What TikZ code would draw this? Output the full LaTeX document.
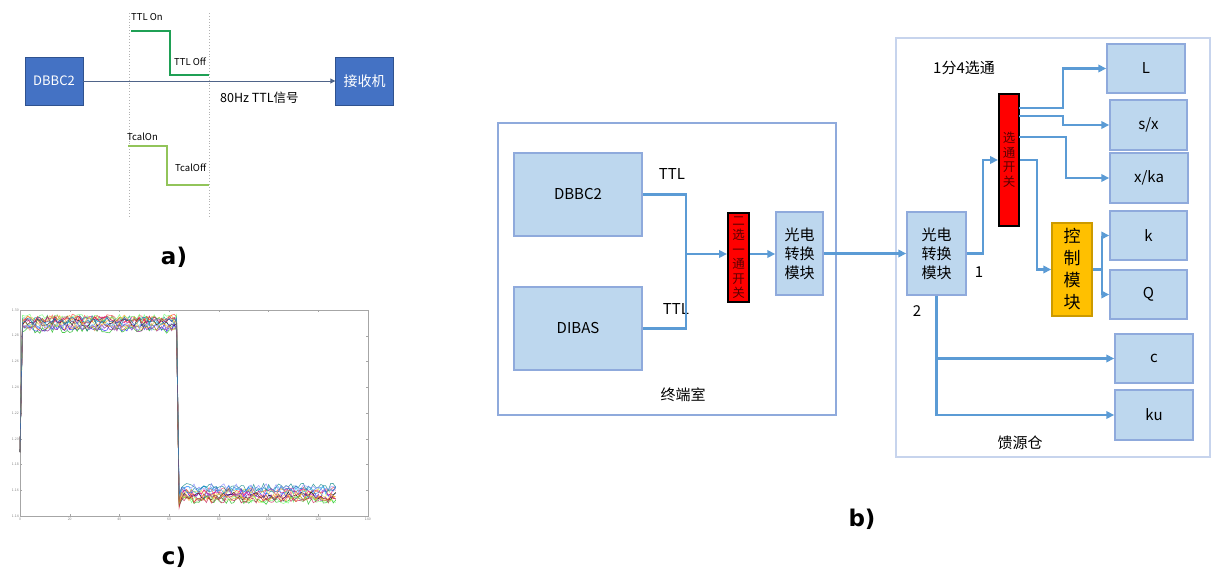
\documentclass[tikz,border=0pt]{standalone}
\usepackage{fontspec}
\setmainfont{Noto Sans CJK SC}
\newfontfamily\labfont{DejaVu Sans}
\usetikzlibrary{arrows.meta,positioning,calc}
\definecolor{sigblue}{HTML}{4472C4}
\definecolor{sigedge}{HTML}{2F528F}
\definecolor{modfill}{HTML}{BDD7EE}
\definecolor{modedge}{HTML}{8FAADC}
\definecolor{linkblue}{HTML}{5B9BD5}
\definecolor{ctrlfill}{HTML}{FFC000}
\definecolor{ttlgreen}{HTML}{1FA055}
\definecolor{calgreen}{HTML}{92C45A}
\definecolor{swtext}{HTML}{5A0000}

\begin{document}
\begin{tikzpicture}[x=1pt,y=-1pt,
        sigbox/.style = {draw=sigedge, fill=sigblue, text=white, inner sep=0pt,
            minimum width=58pt, minimum height=48pt, font=\fontsize{13}{15}\selectfont},
        modbox/.style = {draw=modedge, fill=modfill, line width=1.5pt, inner sep=0pt,
            align=center, font=\fontsize{15}{19}\selectfont},
        swbox/.style = {draw=black, fill=red, line width=2pt, inner sep=0pt,
            align=center, text=swtext, font=\fontsize{12.5}{14.5}\selectfont},
        room/.style = {draw=modedge, line width=1.5pt, inner sep=0pt},
        txt/.style = {inner sep=0pt, font=\fontsize{15}{18}\selectfont},
        small/.style = {inner sep=0pt, anchor=west, font=\fontsize{9.5}{11}\selectfont},
        tag/.style = {inner sep=0pt, font=\labfont\bfseries\fontsize{23}{26}\selectfont},
        link/.style = {draw=linkblue, line width=2.4pt},
        arr/.style = {link, -{Triangle[length=8pt,width=7.5pt]}},
        trace/.style = {line width=0.6pt, opacity=0.7}
        ]
    \useasboundingbox (0,0) rectangle (1212,572);

    % a) ----------------------------------------------------
    \node[sigbox] (dbbca) at (54,81) {DBBC2};
    \node[sigbox, font=\fontsize{14}{16}\selectfont] (rx) at (364.5,81) {接收机};
    \draw[gray!60, dotted, line width=0.9pt] (129,13) -- (129,218) (209,13) -- (209,218);
    \draw[{Triangle[length=5pt,width=5pt]}-, color=sigedge!60!gray, line width=0.9pt] (rx) -- (dbbca);
    \draw[ttlgreen, line width=2pt] (131,31) -- (170,31) -- (170,75) -- (209,75);
    \draw[calgreen, line width=2pt] (128,146) -- (167,146) -- (167,185) -- (209,185);
    \node[small] (ttlon) at (131,17) {TTL On};
    \node[small] (ttloff) at (174,62) {TTL Off};
    \node[small] (tcalon) at (127,137) {TcalOn};
    \node[small] (tcaloff) at (175,168) {TcalOff};
    \node[small, font=\fontsize{12.5}{14}\selectfont] (sig) at (220,98) {80Hz TTL信号};
    \node[tag] (taga) at (174,257) {a)};

    % c) ----------------------------------------------------
    \draw[gray!70, line width=0.6pt] (20,310) rectangle (368,516);
    \foreach \v [count=\k from 0] in {1.30,1.28,1.26,1.24,1.22,1.20,1.18,1.16,1.14} {
        \draw[gray!70, line width=0.4pt] (20,310+\k*25.75) -- ++(2,0) (368,310+\k*25.75) -- ++(-2,0);
        \node[anchor=east, inner sep=1pt, text=gray, font=\fontsize{3.5}{4}\selectfont] (yt\k) at (20,310+\k*25.75) {\v};
    }
    \foreach \v [count=\k from 0] in {0,20,40,60,80,100,120,140} {
        \draw[gray!70, line width=0.4pt] (20+\k*49.7,516) -- ++(0,-2) (20+\k*49.7,310) -- ++(0,2);
        \node[anchor=north, inner sep=2pt, text=gray, font=\fontsize{3.5}{4}\selectfont] (xt\k) at (20+\k*49.7,516) {\v};
    }
    \pgfmathsetseed{11}
    \foreach \c in {blue,green!70!black,red!80,cyan,magenta,yellow!80!black,black,violet,orange!80,teal,blue!50!white,red!40!yellow,green!60,purple,cyan!60!blue} {
        \pgfmathsetmacro\hi{324+rand*6}
        \pgfmathsetmacro\lo{494+rand*7}
        \draw[trace, \c] (20,452) \foreach \i in {1,...,63} { -- ({20+\i*2.486},{\hi+rand*4}) }
            -- ({20+64*2.486},{\lo+8+rand*4})
            \foreach \i in {65,...,127} { -- ({20+\i*2.486},{\lo+rand*4}) };
    }
    \node[tag] (tagc) at (174,557) {c)};

    % b) ----------------------------------------------------
    \node[room, minimum width=338pt, minimum height=292pt] (term) at (667,269) {};
    \node[txt] (termlab) at (683,395) {终端室};
    \node[modbox, minimum width=128pt, minimum height=83pt] (dbbc) at (578,194.5) {DBBC2};
    \node[modbox, minimum width=128pt, minimum height=83pt] (dibas) at (578,328.5) {DIBAS};
    \node[txt] (ttla) at (672,174) {TTL};
    \node[txt] (ttlb) at (676,309) {TTL};
    \node[swbox, minimum width=21pt, minimum height=89pt] (sw1) at (738.5,257.5) {二\\选\\一\\通\\开\\关};
    \node[modbox, minimum width=47pt, minimum height=83pt] (oe1) at (799.5,253.5) {光电\\转换\\模块};
    \coordinate (j1) at (686,254);
    \draw[link] (dbbc.east) -| (j1) |- (dibas.east);
    \draw[arr] (j1) -- (j1 -| sw1.west);
    \draw[arr] (sw1.east |- j1) -- (j1 -| oe1.west);

    \node[room, draw=modedge!50, minimum width=314pt, minimum height=419pt] (feed) at (1053,247.5) {};
    \node[txt] (feedlab) at (1020,443) {馈源仓};
    \node[txt] (sel) at (964,68) {1分4选通};
    \node[modbox, minimum width=59pt, minimum height=83pt] (oe2) at (936.5,253.5) {光电\\转换\\模块};
    \node[txt] (one) at (979,272) {1};
    \node[txt] (two) at (917,311) {2};
    \node[swbox, minimum width=20pt, minimum height=132pt] (sw2) at (1009,160) {选\\通\\开\\关};
    \node[modbox, fill=ctrlfill, draw=ctrlfill!80!black, minimum width=40pt, minimum height=93pt,
        font=\fontsize{17}{22}\selectfont] (ctrl) at (1072,269.5) {控\\制\\模\\块};
    \node[modbox, minimum width=78pt, minimum height=49pt] (L) at (1146,68.5) {L};
    \node[modbox, minimum width=77pt, minimum height=50pt] (sx) at (1148.5,125) {s/x};
    \node[modbox, minimum width=78pt, minimum height=50pt] (xka) at (1149,178) {x/ka};
    \node[modbox, minimum width=77pt, minimum height=49pt] (k) at (1148.5,235.5) {k};
    \node[modbox, minimum width=77pt, minimum height=49pt] (Q) at (1148.5,294.5) {Q};
    \node[modbox, minimum width=78pt, minimum height=49pt] (c) at (1154,358.5) {c};
    \node[modbox, minimum width=78pt, minimum height=50pt] (ku) at (1154,415) {ku};

    \draw[arr] (oe1.east) -- (oe2.west);
    \draw[arr] (oe2.east) -- ++(16,0) |- (sw2.west);
    \coordinate (o1) at (1019,108);
    \coordinate (o2) at (1019,116);
    \coordinate (o3) at (1019,137);
    \draw[arr] (o1) -- ++(44,0) |- (L.west);
    \draw[arr] (o2) -- ++(44,0) |- (sx.west);
    \draw[arr] (o3) -- ++(47,0) |- (xka.west);
    \draw[arr] (sw2.east) -- ++(17,0) |- (ctrl.west);
    \draw[link] (ctrl.east) -- ++(9,0) coordinate (j2);
    \draw[arr] (j2) |- (k.west);
    \draw[arr] (j2) |- (Q.west);
    \draw[arr] (oe2.south) |- (ku.west);
    \draw[arr] (oe2.south |- c.west) -- (c.west);
    \node[tag] (tagb) at (862,519) {b)};
\end{tikzpicture}
\end{document}
